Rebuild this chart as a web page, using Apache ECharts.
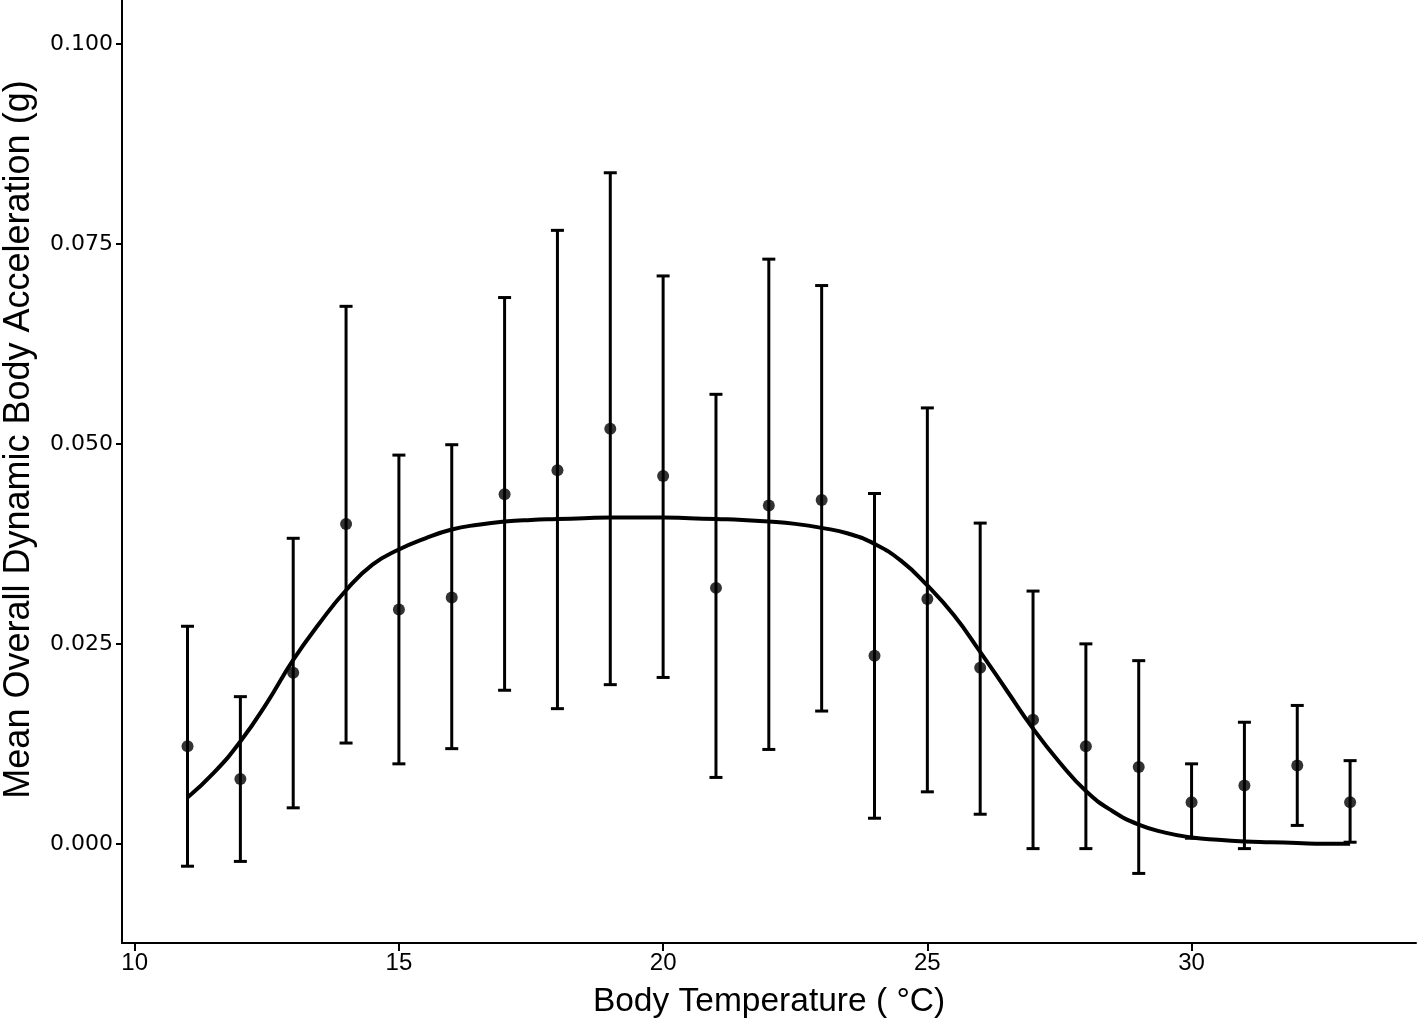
<!DOCTYPE html>
<html>
<head>
<meta charset="utf-8">
<script src="https://cdn.jsdelivr.net/npm/echarts@6/dist/echarts.min.js"></script>
<style>
  html, body { margin: 0; padding: 0; background: #ffffff; }
  #chart { width: 1418px; height: 1022px; }
</style>
</head>
<body>
<div id="chart"></div>
<script>
// Body temperature (°C) categories
const temps = [11, 12, 13, 14, 15, 16, 17, 18, 19, 20, 21, 22, 23, 24, 25, 26, 27, 28, 29, 30, 31, 32, 33];
// Mean ODBA (g)
const means = [0.0122, 0.0081, 0.0214, 0.0400, 0.0293, 0.0308, 0.0437, 0.0467, 0.0519, 0.0460, 0.0320, 0.0423,
               0.0430, 0.0235, 0.0306, 0.0220, 0.0155, 0.0122, 0.0096, 0.0052, 0.0073, 0.0098, 0.0052];
// Error bar lower / upper bounds
const lows  = [-0.0028, -0.0022, 0.0045, 0.0126, 0.0100, 0.0119, 0.0192, 0.0169, 0.0199, 0.0208, 0.0083, 0.0118,
               0.0166, 0.0032, 0.0065, 0.0037, -0.0006, -0.0006, -0.0037, 0.0007, -0.0006, 0.0023, 0.0002];
const highs = [0.0272, 0.0184, 0.0382, 0.0672, 0.0486, 0.0499, 0.0683, 0.0767, 0.0839, 0.0710, 0.0562, 0.0731,
               0.0698, 0.0438, 0.0545, 0.0401, 0.0316, 0.0250, 0.0229, 0.0100, 0.0152, 0.0173, 0.0104];
// Fitted curve
const curveX = [11, 11.5, 12, 12.5, 13, 13.5, 14, 14.5, 15, 15.5, 16, 16.5, 17, 17.5, 18, 18.5, 19, 19.5, 20, 20.5,
                21, 21.5, 22, 22.5, 23, 23.5, 24, 24.5, 25, 25.5, 26, 26.5, 27, 27.5, 28, 28.5, 29, 29.5, 30, 30.5,
                31, 31.5, 32, 32.5, 33];
const curveY = [0.0058, 0.0089, 0.0128, 0.0176, 0.0230, 0.0276, 0.0317, 0.0349, 0.0368, 0.0382, 0.0393, 0.0399,
                0.0403, 0.0405, 0.0406, 0.0407, 0.0408, 0.0408, 0.0408, 0.0407, 0.0406, 0.0405, 0.0403, 0.0400,
                0.0395, 0.0388, 0.0375, 0.0354, 0.0323, 0.0286, 0.0240, 0.0192, 0.0144, 0.0102, 0.0066, 0.0041,
                0.0024, 0.0014, 0.0008, 0.0005, 0.0003, 0.0002, 0.0001, 0.0000, 0.0000];
// Tick labels
const xTicks = [10, 15, 20, 25, 30];
const yTicks = [0, 0.025, 0.05, 0.075, 0.1];

const chart = echarts.init(document.getElementById('chart'), null, { renderer: 'canvas' });

const errData = temps.map((t, i) => [t, lows[i], highs[i]]);
const ptData = temps.map((t, i) => [t, means[i]]);
const fitData = curveX.map((t, i) => [t, curveY[i]]);

const option = {
  backgroundColor: '#ffffff',
  animation: false,
  grid: { left: 122, right: 2, top: 0, bottom: 79, containLabel: false, outerBoundsMode: 'none' },
  xAxis: {
    type: 'value',
    min: 9.76, max: 34.247,
    name: 'Body Temperature ( \u00B0C)',
    nameLocation: 'middle',
    nameGap: 42,
    nameTextStyle: { fontFamily: 'Liberation Sans', fontSize: 33.5, color: '#000' },
    axisLine: { show: true, onZero: false, lineStyle: { color: '#000', width: 2 } },
    axisTick: { show: true, customValues: xTicks, length: 8, lineStyle: { color: '#000', width: 2 } },
    axisLabel: { customValues: xTicks, margin: 8, fontFamily: 'Liberation Sans', fontSize: 24, color: '#000' },
    splitLine: { show: false }
  },
  yAxis: {
    type: 'value',
    min: -0.0124, max: 0.1055,
    name: 'Mean Overall Dynamic Body Acceleration (g)',
    nameLocation: 'middle',
    nameGap: 85,
    nameTextStyle: { fontFamily: 'Liberation Sans', fontSize: 36, color: '#000', padding: [0, 0, 0, 64] },
    axisLine: { show: true, onZero: false, lineStyle: { color: '#000', width: 2 } },
    axisTick: { show: true, customValues: yTicks, length: 6, lineStyle: { color: '#000', width: 2 } },
    axisLabel: {
      customValues: yTicks, margin: 9, fontFamily: 'DejaVu Sans', fontSize: 22, color: '#000',
      formatter: v => Number(v).toFixed(3)
    },
    splitLine: { show: false }
  },
  series: [
    {
      type: 'custom',
      name: 'err',
      data: errData,
      encode: { x: 0, y: [1, 2] },
      renderItem: function (params, api) {
        const x = api.value(0);
        const lo = api.coord([x, api.value(1)]);
        const hi = api.coord([x, api.value(2)]);
        const hw = 6.5;
        const style = { stroke: '#000', lineWidth: 3, fill: null };
        return {
          type: 'group',
          children: [
            { type: 'line', shape: { x1: lo[0], y1: lo[1], x2: hi[0], y2: hi[1] }, style: style },
            { type: 'line', shape: { x1: hi[0] - hw, y1: hi[1], x2: hi[0] + hw, y2: hi[1] }, style: style },
            { type: 'line', shape: { x1: lo[0] - hw, y1: lo[1], x2: lo[0] + hw, y2: lo[1] }, style: style }
          ]
        };
      },
      z: 2
    },
    {
      type: 'line',
      name: 'fit',
      data: fitData,
      smooth: true,
      showSymbol: false,
      symbol: 'none',
      lineStyle: { color: '#000', width: 4 },
      z: 3
    },
    {
      type: 'scatter',
      name: 'mean',
      data: ptData,
      symbol: 'circle',
      symbolSize: 12,
      itemStyle: { color: '#000' },
      z: 4
    }
  ]
};

chart.setOption(option);
</script>
</body>
</html>
